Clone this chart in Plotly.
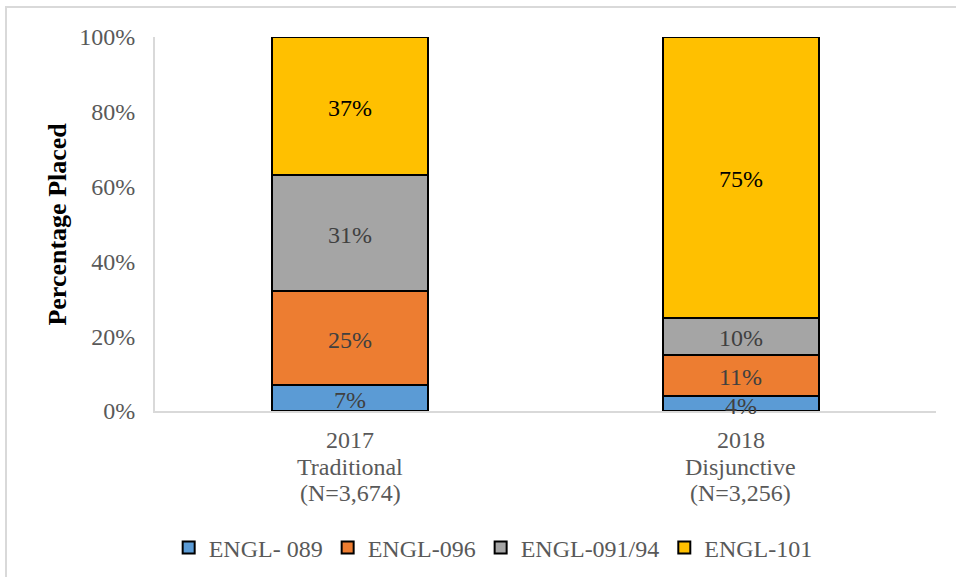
import plotly.graph_objects as go

categories = ["2017", "2018"]
category_lines = [["2017", "Traditional", "(N=3,674)"], ["2018", "Disjunctive", "(N=3,256)"]]
series_names = ["ENGL- 089", "ENGL-096", "ENGL-091/94", "ENGL-101"]
engl_089 = [7, 4]
engl_096 = [25, 11]
engl_091_94 = [31, 10]
engl_101 = [37, 75]
series_values = [engl_089, engl_096, engl_091_94, engl_101]
colors = ["#5B9BD5", "#ED7D31", "#A5A5A5", "#FFC000"]
label_colors = ["#404040", "#404040", "#404040", "#000000"]
y_ticks = [0, 20, 40, 60, 80, 100]
y_tick_labels = ["0%", "20%", "40%", "60%", "80%", "100%"]

FONT = "Liberation Serif, Times New Roman, serif"
FS = 24

fig = go.Figure()
for name, vals, col in zip(series_names, series_values, colors):
    fig.add_trace(go.Bar(
        x=categories, y=vals, name=name, width=0.4,
        marker=dict(color=col, line=dict(color="#000000", width=2)),
        hoverinfo="skip",
    ))

# data labels at segment centres
cum = [0, 0]
for vals, lc in zip(series_values, label_colors):
    for i, v in enumerate(vals):
        fig.add_annotation(x=i, y=cum[i] + v / 2, xref="x", yref="y",
                           text=f"{v}%", showarrow=False, yshift=-2,
                           font=dict(family=FONT, size=FS, color=lc))
        cum[i] += v

# category labels (tighter line spacing than plotly ticks allow)
for i, lines in enumerate(category_lines):
    for j, line in enumerate(lines):
        fig.add_annotation(x=i, y=0, xref="x", yref="paper", text=line,
                           showarrow=False, yanchor="middle", yshift=-29 - 26.5 * j,
                           font=dict(family=FONT, size=FS, color="#595959"))

fig.add_annotation(x=-0.126, y=0.5, xref="paper", yref="paper", text="<b>Percentage Placed</b>",
                   textangle=-90, showarrow=False, xanchor="center", yanchor="middle",
                   font=dict(family=FONT, size=26, color="#000000"))

# outer chart border (partially visible)
fig.add_shape(type="rect", xref="paper", yref="paper", x0=-0.1908, x1=1.5, y0=-1.0, y1=1.0802,
              line=dict(color="#D9D9D9", width=2), fillcolor="rgba(0,0,0,0)", layer="below")

fig.update_layout(
    width=956, height=577,
    margin=dict(l=155, r=20, t=37, b=166, autoexpand=False),
    paper_bgcolor="#FFFFFF", plot_bgcolor="#FFFFFF",
    barmode="stack",
    font=dict(family=FONT, size=FS, color="#595959"),
    showlegend=True,
    legend=dict(orientation="h", x=0.433, xanchor="center", y=-0.366, yanchor="middle",
                font=dict(family=FONT, size=FS, color="#595959"), traceorder="normal",
                itemwidth=30),
    xaxis=dict(type="category", showline=True, linecolor="#D9D9D9", linewidth=2, ticks="",
               showgrid=False, showticklabels=False, automargin=False),
    yaxis=dict(range=[0, 100], tickvals=y_ticks, ticktext=y_tick_labels, showgrid=False,
               showline=True, linecolor="#D9D9D9", linewidth=2, ticks="", ticklabelstandoff=13,
               zeroline=False, automargin=False,
               tickfont=dict(family=FONT, size=FS, color="#595959")),
)

fig.write_html("out.html", config={"displayModeBar": False},
               post_script="document.body.style.margin='0';")
